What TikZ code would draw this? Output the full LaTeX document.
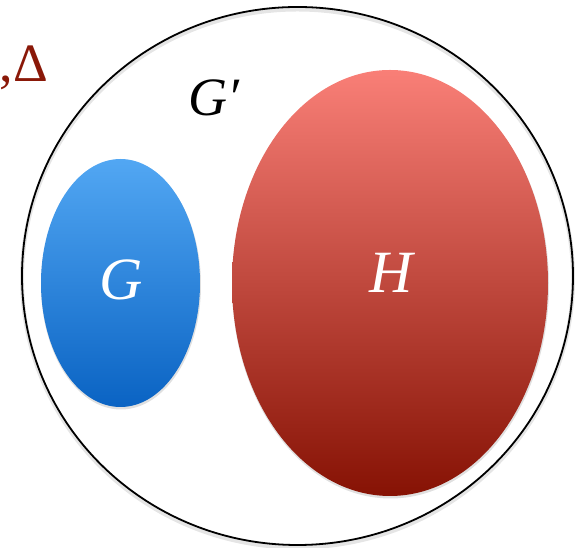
\documentclass[tikz,border=0pt]{standalone}
\usepackage{fontspec}
\setmainfont{Liberation Serif}
\definecolor{bluetop}{HTML}{52A7F3}
\definecolor{bluebot}{HTML}{0A63C3}
\definecolor{redtop}{HTML}{F97F77}
\definecolor{redbot}{HTML}{861204}
\definecolor{deltared}{HTML}{8A1808}
\tikzset{
  lbl/.style={inner sep=0pt, font=\fontsize{60}{60}\selectfont\itshape},
  shadowfill/.style={fill=black, fill opacity=0.12}
}
\begin{document}
\begin{tikzpicture}[x=1pt,y=1pt]
\useasboundingbox (0,0) rectangle (587,548);
% outer circle (G') with soft drop shadow
\draw[line width=4pt, black!10] (297.5,269.5) ellipse [x radius=275.5, y radius=269];
\draw[line width=1.8pt] (297.5,272) ellipse [x radius=275.5, y radius=269];
% G
\fill[shadowfill] (121,263) ellipse [x radius=80, y radius=124.5];
\shade[top color=bluetop, bottom color=bluebot] (120.5,265) ellipse [x radius=79.5, y radius=124];
% H
\fill[shadowfill] (390.5,263) ellipse [x radius=158.5, y radius=213.5];
\shade[top color=redtop, bottom color=redbot] (390,265) ellipse [x radius=158, y radius=213];
\node[lbl, white] (g) at (121,268) {G};
\node[lbl, white] (h) at (391,275) {H};
\node[lbl, font=\fontsize{54}{54}\selectfont\itshape] (gp) at (214,450) {G′};
\node[inner sep=0pt, anchor=east, text=deltared, font=\fontsize{54}{54}\selectfont] (delta) at (48,480) {,Δ};
\end{tikzpicture}
\end{document}
